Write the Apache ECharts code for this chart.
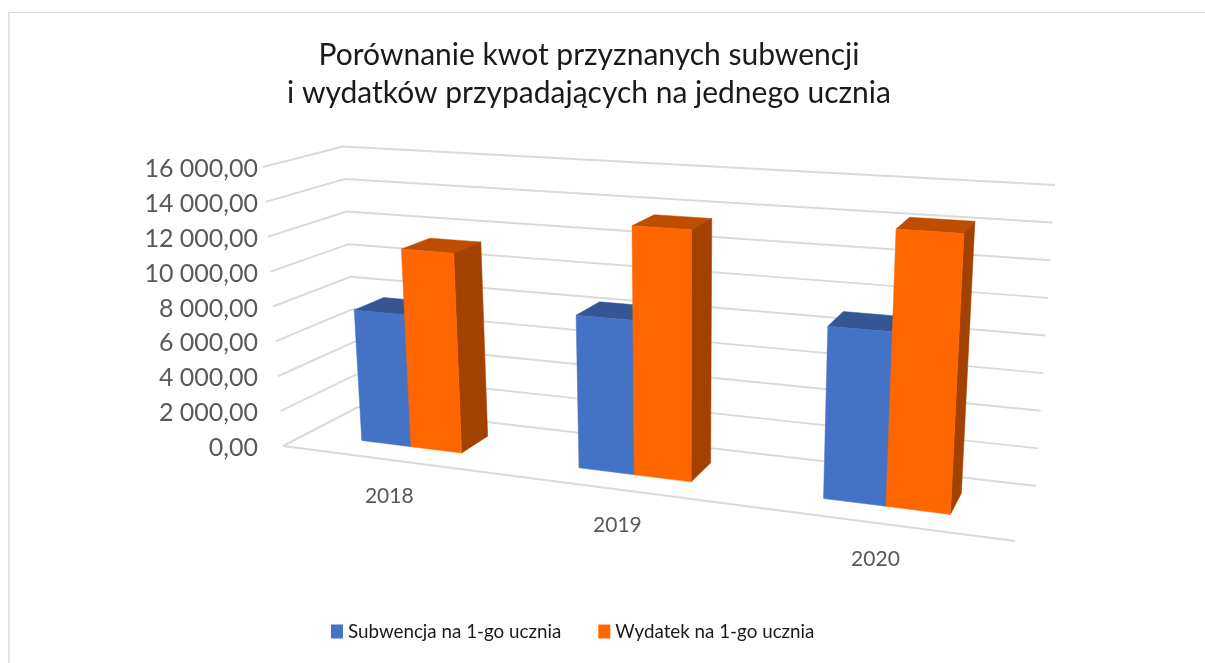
<!DOCTYPE html>
<html>
<head>
<meta charset="utf-8">
<title>Porównanie kwot</title>
<script src="https://cdn.jsdelivr.net/npm/echarts@6/dist/echarts.min.js"></script>
<style>
  html, body { margin: 0; padding: 0; background: #fff; }
  #chart { width: 1205px; height: 663px; }
</style>
</head>
<body>
<div id="chart"></div>
<script>
const categories = ['2018', '2019', '2020'];
const subwencja = [7550, 8400, 9000];
const wydatek = [11300, 13550, 14300];
const yTicks = [0, 2000, 4000, 6000, 8000, 10000, 12000, 14000, 16000];

const FONT = 'Lato';
const GRID = { left: 265, top: 169, width: 750, height: 279 };

// corners of the floor on screen: front left, front right, back right, back left
const floorQuad = [[283, 446], [1015, 541], [1036, 486], [358, 407]];
// verticals run towards this point, far below the picture
const vanish = [685, 6051];
// on screen height of the full axis, affine in the floor position
const fullHeight = { base: 279, perX: 0.00367, perY: 0.481 };

// unit square -> quad
function homography (quad) {
  const [x0, y0] = quad[0], [x1, y1] = quad[1], [x2, y2] = quad[2], [x3, y3] = quad[3];
  const dx1 = x1 - x2, dx2 = x3 - x2, sx = x0 - x1 + x2 - x3;
  const dy1 = y1 - y2, dy2 = y3 - y2, sy = y0 - y1 + y2 - y3;
  const den = dx1 * dy2 - dx2 * dy1;
  const g = (sx * dy2 - dx2 * sy) / den;
  const k = (dx1 * sy - sx * dy1) / den;
  return function (u, v) {
    const W = g * u + k * v + 1;
    return [
      ((x1 - x0 + g * x1) * u + (x3 - x0 + k * x3) * v + x0) / W,
      ((y1 - y0 + g * y1) * u + (y3 - y0 + k * y3) * v + y0) / W
    ];
  };
}
const floorAt = homography(floorQuad);

// u along years, v into depth, h up
function project (u, v, h) {
  const f = floorAt(u, v);
  const len = fullHeight.base + fullHeight.perX * (f[0] - floorQuad[0][0]) + fullHeight.perY * (f[1] - floorQuad[0][1]);
  const lean = (vanish[0] - f[0]) / (vanish[1] - f[1]);
  return [f[0] - lean * len * h, f[1] - len * h];
}

const barWidth = 0.079;     // in u, one bar
const bandShift = 0.003;
const depthFrom = 0.3, depthTo = 0.7;

function toH (api, val) {
  const y0 = api.coord([0, 0])[1];
  const y1 = api.coord([0, 16000])[1];
  return (y0 - api.coord([0, val])[1]) / (y0 - y1);
}
function toU (api, idx) {
  return (api.coord([idx, 0])[0] - GRID.left) / GRID.width + bandShift;
}
function face (points, color) {
  return {
    type: 'polygon',
    shape: { points: points },
    style: { fill: color, stroke: color, lineWidth: 0.5 },
    silent: true
  };
}

function barRenderer (side, front, top, right) {
  return function (params, api) {
    const idx = api.value(0);
    const h = toH(api, api.value(1));
    const c = toU(api, idx);
    const a = side < 0 ? c - barWidth : c;
    const b = a + barWidth;
    return {
      type: 'group',
      children: [
        face([project(a, depthFrom, h), project(b, depthFrom, h), project(b, depthTo, h), project(a, depthTo, h)], top),
        face([project(b, depthFrom, 0), project(b, depthTo, 0), project(b, depthTo, h), project(b, depthFrom, h)], right),
        face([project(a, depthFrom, 0), project(b, depthFrom, 0), project(b, depthFrom, h), project(a, depthFrom, h)], front)
      ]
    };
  };
}

function wallRenderer (params, api) {
  const h = toH(api, api.value(1));
  const style = { stroke: '#DADADA', lineWidth: 2, fill: null };
  const children = [{
    type: 'polyline',
    shape: { points: [project(0, 0, h), project(0, 1, h), project(1, 1, h)] },
    style: style,
    silent: true
  }];
  if (api.value(1) === 0) {
    children.push({
      type: 'polyline',
      shape: { points: [project(0, 0, 0), project(1, 0, 0)] },
      style: style,
      silent: true
    });
  }
  return { type: 'group', children: children };
}

function labelRenderer (params, api) {
  const idx = api.value(0);
  const p = project(toU(api, idx), 0, 0);
  return {
    type: 'text',
    x: p[0],
    y: p[1] + 36,
    style: {
      text: categories[idx],
      font: '21px ' + FONT,
      fill: '#595959',
      align: 'center',
      verticalAlign: 'middle'
    },
    silent: true
  };
}

const chart = echarts.init(document.getElementById('chart'));
chart.setOption({
  animation: false,
  backgroundColor: '#fff',
  title: {
    text: 'Porównanie kwot przyznanych subwencji\ni wydatków przypadających na jednego ucznia',
    left: 584,
    top: 31,
    textAlign: 'center',
    textStyle: { fontFamily: FONT, fontSize: 30, fontWeight: 'normal', color: '#1a1a1a', lineHeight: 38 }
  },
  legend: {
    data: ['Subwencja na 1-go ucznia', 'Wydatek na 1-go ucznia'],
    left: 326,
    top: 617,
    icon: 'rect',
    itemWidth: 12,
    itemHeight: 14,
    itemGap: 37,
    selectedMode: false,
    textStyle: { fontFamily: FONT, fontSize: 18.8, color: '#1a1a1a' }
  },
  graphic: [
    { type: 'line', shape: { x1: 8, y1: 12.5, x2: 1205, y2: 12.5 }, style: { stroke: '#D9D9D9', lineWidth: 1 }, silent: true },
    { type: 'line', shape: { x1: 9, y1: 12, x2: 9, y2: 663 }, style: { stroke: '#E3E3E3', lineWidth: 2 }, silent: true }
  ],
  grid: GRID,
  xAxis: { type: 'category', data: categories, show: false },
  yAxis: {
    type: 'value',
    min: 0,
    max: 16000,
    interval: 2000,
    axisLine: { show: false },
    axisTick: { show: false },
    splitLine: { show: false },
    axisLabel: {
      margin: 7,
      fontFamily: FONT,
      fontSize: 25,
      color: '#595959',
      formatter: function (v) {
        return String(v).replace(/\B(?=(\d{3})+$)/g, ' ') + ',00';
      }
    }
  },
  series: [
    { type: 'custom', name: 'siatka', z: 1, clip: false, renderItem: wallRenderer, data: yTicks.map(t => [0, t]) },
    { type: 'custom', name: 'lata', z: 1, clip: false, renderItem: labelRenderer, data: categories.map((c, i) => [i, 0]) },
    {
      type: 'custom',
      name: 'Subwencja na 1-go ucznia',
      z: 2,
      clip: false,
      itemStyle: { color: '#4472C4' },
      renderItem: barRenderer(-1, '#4472C4', '#345695', '#2B4A80'),
      data: categories.map((c, i) => [i, subwencja[i]])
    },
    {
      type: 'custom',
      name: 'Wydatek na 1-go ucznia',
      z: 3,
      clip: false,
      itemStyle: { color: '#FF6600' },
      renderItem: barRenderer(1, '#FF6600', '#BF4D00', '#A34100'),
      data: categories.map((c, i) => [i, wydatek[i]])
    }
  ]
});
</script>
</body>
</html>
